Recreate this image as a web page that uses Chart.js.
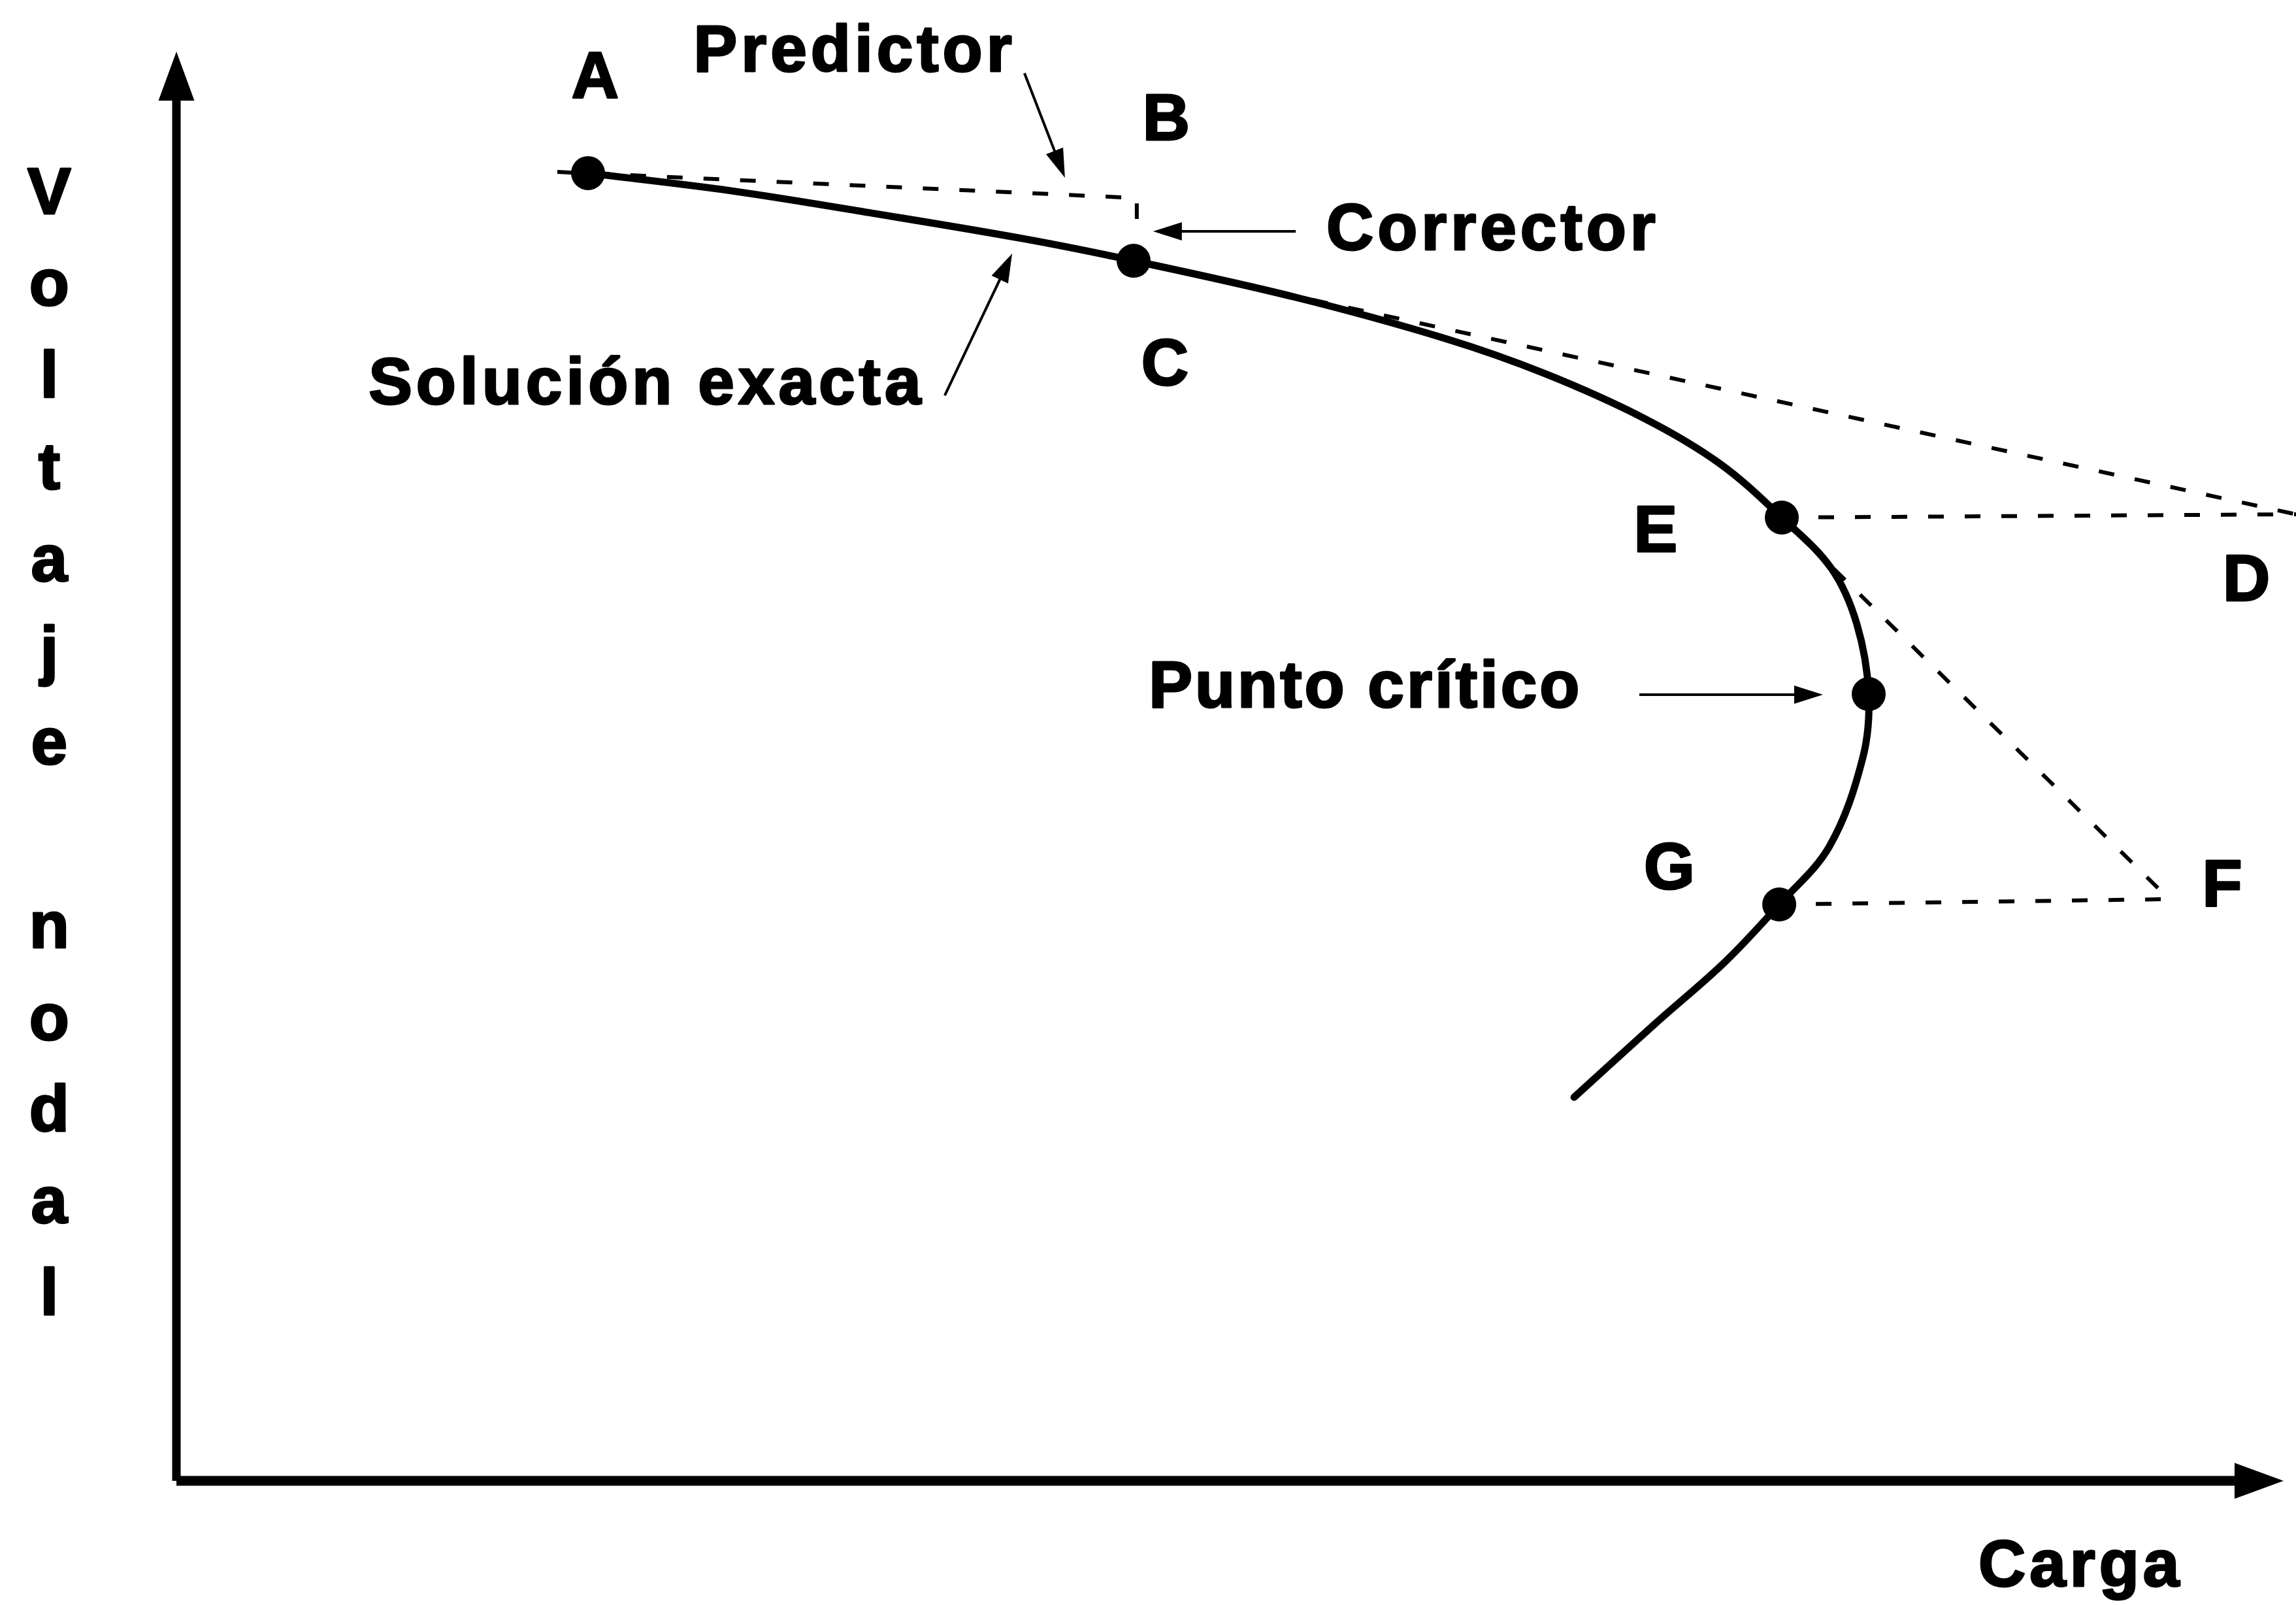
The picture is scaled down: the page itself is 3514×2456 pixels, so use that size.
<!DOCTYPE html>
<html>
<head>
<meta charset="utf-8">
<script src="https://cdn.jsdelivr.net/npm/chart.js@4.4.1/dist/chart.umd.min.js"></script>
<style>
  html, body { margin: 0; padding: 0; background: #fff; }
  #wrap { width: 3514px; height: 2456px; }
</style>
</head>
<body>
<div id="wrap"><canvas id="myChart" width="3514" height="2456"></canvas></div>
<script>
// curva PV (solucion exacta): carga vs voltaje
const solucionCarga   = [19.42, 26.20, 33.14, 40.07, 45.16, 52.81, 59.86, 64.58, 69.30, 72.84, 75.74, 78.08, 79.28, 79.84, 79.56, 77.99, 75.62, 73.06, 69.82, 65.94];
const solucionVoltaje = [88.31, 87.11, 85.53, 83.85, 82.39, 79.92, 77.14, 74.76, 71.71, 68.67, 65.05, 61.61, 57.86, 53.13, 48.81, 42.85, 38.92, 35.04, 30.94, 25.90];

// puntos marcados A, C, E, punto critico, G
const puntosCarga   = [19.42, 45.16, 75.74, 79.84, 75.62];
const puntosVoltaje = [88.31, 82.39, 65.05, 53.13, 38.92];

// predictor A -> B y corrector B -> C
const predictorCarga   = [17.97, 45.31, 45.31];
const predictorVoltaje = [88.39, 86.63, 85.22];

// tangentes y pasos punteados
const tangenteC_D = { carga: [45.16, 100], voltaje: [82.39, 65.27] };
const pasoE_D     = { carga: [75.74, 100], voltaje: [65.05, 65.27] };
const tangenteE_F = { carga: [75.74, 94.02], voltaje: [65.05, 39.28] };
const pasoG_F     = { carga: [75.62, 94.02], voltaje: [38.92, 39.28] };

// ejes
const ejeX = { carga: [0, 97.1], voltaje: [0, 0] };
const ejeY = { carga: [0, 0], voltaje: [0, 93.2] };

const etiquetas = [
  { t: 'A', x: 19.85, y: 93.38 },
  { t: 'Predictor', x: 32.0, y: 95.19 },
  { t: 'B', x: 46.79, y: 90.56 },
  { t: 'C', x: 46.73, y: 74.01 },
  { t: 'Solución exacta', x: 22.19, y: 72.73 },
  { t: 'Corrector', x: 62.11, y: 83.14 },
  { t: 'E', x: 69.88, y: 62.75 },
  { t: 'D', x: 97.75, y: 59.44 },
  { t: 'G', x: 70.53, y: 39.98 },
  { t: 'F', x: 96.61, y: 38.83 },
  { t: 'Punto crítico', x: 56.10, y: 52.25, ls: 4 },
  { t: 'Carga', x: 89.85, y: -7.11 }
];
const tituloY = 'Voltaje nodal';

const flechas = [
  { x0: 40.01, y0: 95.06, x1: 41.92, y1: 88.00 },
  { x0: 52.81, y0: 84.38, x1: 46.08, y1: 84.38 },
  { x0: 36.25, y0: 73.30, x1: 39.43, y1: 82.88 },
  { x0: 69.02, y0: 53.09, x1: 77.68, y1: 53.09 }
];

function pares(xs, ys) {
  return xs.map((x, i) => ({ x: x, y: ys[i] }));
}

function linea(xs, ys, extra) {
  return Object.assign({
    type: 'scatter',
    data: pares(xs, ys),
    showLine: true,
    borderColor: '#000',
    borderWidth: 6,
    borderDash: [24, 32],
    pointRadius: 0,
    fill: false,
    clip: false
  }, extra || {});
}

function punta(ctx, x0, y0, x1, y1, largo, ancho) {
  const a = Math.atan2(y1 - y0, x1 - x0);
  ctx.beginPath();
  ctx.moveTo(x1, y1);
  ctx.lineTo(x1 - largo * Math.cos(a) + ancho / 2 * Math.sin(a), y1 - largo * Math.sin(a) - ancho / 2 * Math.cos(a));
  ctx.lineTo(x1 - largo * Math.cos(a) - ancho / 2 * Math.sin(a), y1 - largo * Math.sin(a) + ancho / 2 * Math.cos(a));
  ctx.closePath();
  ctx.fill();
}

const anotaciones = {
  id: 'anotaciones',
  afterDatasetsDraw(chart) {
    const ctx = chart.ctx;
    const sx = chart.scales.x, sy = chart.scales.y;
    ctx.save();
    ctx.fillStyle = '#000';
    ctx.strokeStyle = '#000';

    // puntas de los ejes
    const ox = sx.getPixelForValue(0), oy = sy.getPixelForValue(0);
    const yTop = sy.getPixelForValue(ejeY.voltaje[1]);
    punta(ctx, ox, yTop + 1, ox, yTop - 75, 75, 55);
    const xEnd = sx.getPixelForValue(ejeX.carga[1]);
    punta(ctx, xEnd - 1, oy, xEnd + 75, oy, 75, 55);

    // flechas de anotacion
    ctx.lineWidth = 4;
    flechas.forEach(f => {
      const x0 = sx.getPixelForValue(f.x0), y0 = sy.getPixelForValue(f.y0);
      const x1 = sx.getPixelForValue(f.x1), y1 = sy.getPixelForValue(f.y1);
      const a = Math.atan2(y1 - y0, x1 - x0);
      ctx.beginPath();
      ctx.moveTo(x0, y0);
      ctx.lineTo(x1 - 30 * Math.cos(a), y1 - 30 * Math.sin(a));
      ctx.stroke();
      punta(ctx, x0, y0, x1, y1, 44, 28);
    });

    // textos
    ctx.font = 'bold 100px "Liberation Sans", Arial, sans-serif';
    ctx.textAlign = 'center';
    ctx.textBaseline = 'alphabetic';
    ctx.lineWidth = 3;
    ctx.lineJoin = 'round';
    etiquetas.forEach(e => {
      ctx.letterSpacing = (e.ls !== undefined ? e.ls : 6) + 'px';
      const px = sx.getPixelForValue(e.x), py = sy.getPixelForValue(e.y);
      ctx.fillText(e.t, px, py);
      ctx.strokeText(e.t, px, py);
    });

    // titulo vertical, letra por letra
    ctx.letterSpacing = '0px';
    const xt = sx.getPixelForValue(-6.0);
    tituloY.split('').forEach((c, i) => {
      if (c === ' ') return;
      ctx.fillText(c, xt, 327 + 140.4 * i);
      ctx.strokeText(c, xt, 327 + 140.4 * i);
    });
    ctx.restore();
  }
};

const ctx2 = document.getElementById('myChart');
const grafico = new Chart(ctx2, {
  type: 'scatter',
  data: {
    datasets: [
      linea(ejeX.carga, ejeX.voltaje, { borderWidth: 15, borderDash: [], borderCapStyle: 'butt' }),
      linea(ejeY.carga, ejeY.voltaje, { borderWidth: 13, borderDash: [], borderCapStyle: 'butt' }),
      linea(predictorCarga, predictorVoltaje),
      linea(tangenteC_D.carga, tangenteC_D.voltaje),
      linea(pasoE_D.carga, pasoE_D.voltaje),
      linea(tangenteE_F.carga, tangenteE_F.voltaje),
      linea(pasoG_F.carga, pasoG_F.voltaje),
      linea(solucionCarga, solucionVoltaje, {
        borderWidth: 11,
        borderDash: [],
        tension: 0.35,
        borderCapStyle: 'round',
        borderJoinStyle: 'round'
      }),
      {
        type: 'scatter',
        data: pares(puntosCarga, puntosVoltaje),
        pointRadius: 26,
        pointBackgroundColor: '#000',
        pointBorderColor: '#000',
        pointBorderWidth: 0,
        clip: false
      }
    ]
  },
  options: {
    responsive: false,
    animation: false,
    devicePixelRatio: 1,
    layout: { autoPadding: false, padding: { left: 270, right: 0, top: 0, bottom: 190 } },
    plugins: { legend: { display: false }, tooltip: { enabled: false } },
    scales: {
      x: { type: 'linear', min: 0, max: 100, display: false },
      y: { type: 'linear', min: 0, max: 100, display: false }
    }
  },
  plugins: [anotaciones]
});
</script>
</body>
</html>
